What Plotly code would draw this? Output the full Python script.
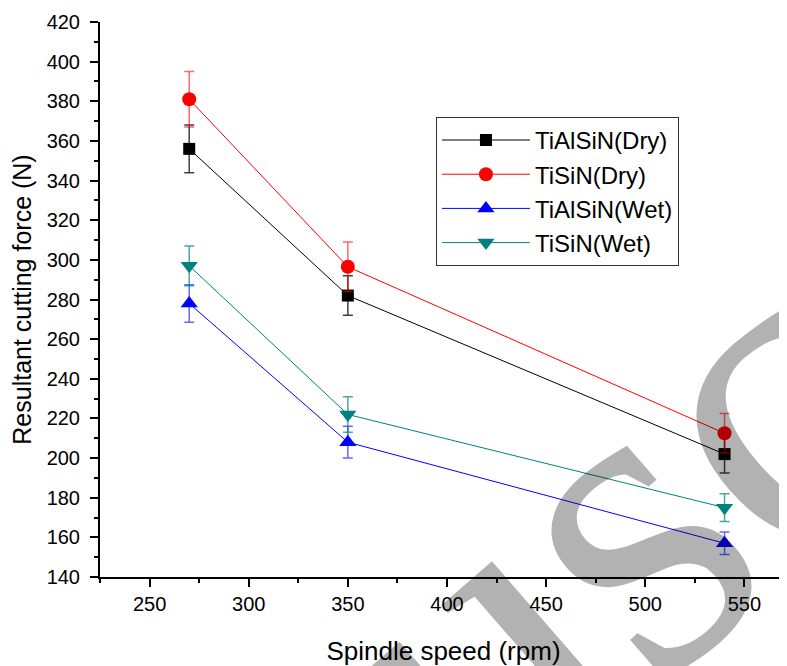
import plotly.graph_objects as go

speed = [270, 350, 540]

series_names = ["TiAlSiN(Dry)", "TiSiN(Dry)", "TiAlSiN(Wet)", "TiSiN(Wet)"]
tialsin_dry = [356, 282, 202]
tialsin_dry_err = [12, 10, 9.5]
tisin_dry = [381, 296.5, 212.5]
tisin_dry_err = [14, 12.5, 10]
tialsin_wet = [278, 208, 157]
tialsin_wet_err = [9.5, 8, 5.7]
tisin_wet = [297, 222, 175]
tisin_wet_err = [10, 9, 7]

colors = ["#000000", "#ff0000", "#0000ff", "#008080"]
err_colors = ["rgba(0,0,0,0.75)", "rgba(255,0,0,0.6)", "rgba(0,0,255,0.6)", "rgba(0,128,128,0.7)"]
symbols = ["square", "circle", "triangle-up", "triangle-down"]
msizes = [12, 14, 15, 15]
values = [tialsin_dry, tisin_dry, tialsin_wet, tisin_wet]
errors = [tialsin_dry_err, tisin_dry_err, tialsin_wet_err, tisin_wet_err]

fig = go.Figure()
for name, y, e, c, ec, s, ms in zip(series_names, values, errors, colors, err_colors, symbols, msizes):
    fig.add_trace(go.Scatter(
        x=speed, y=y, name=name, mode="lines+markers",
        line=dict(color=c, width=1),
        marker=dict(symbol=s, size=ms, color=c),
        error_y=dict(type="data", array=e, visible=True, color=ec, thickness=1.5, width=5),
    ))

fig.add_annotation(
    text="Manuscript", xref="paper", yref="paper", x=0.634, y=-0.036,
    xanchor="center", yanchor="middle", showarrow=False, textangle=-41,
    font=dict(family="Liberation Serif", size=450, color="rgba(0,0,0,0.3)"),
)

# page body has an 8px margin: figure is sized to fit the 787x666 window
fig.update_layout(
    width=779, height=658,
    margin=dict(l=92, r=0, t=14, b=89, autoexpand=False),
    paper_bgcolor="white", plot_bgcolor="white",
    font=dict(family="Liberation Sans, Arial", color="black"),
    showlegend=True,
    legend=dict(x=0.489, y=0.829, xanchor="left", yanchor="top",
                bordercolor="#333333", borderwidth=1, bgcolor="white",
                font=dict(size=24), tracegroupgap=0, itemwidth=88),
    xaxis=dict(range=[225, 571.5], tickvals=[250, 300, 350, 400, 450, 500, 550],
               automargin=False,
               showgrid=False, zeroline=False, showline=True, linecolor="black", linewidth=2,
               ticks="outside", ticklen=8, tickwidth=2, tickcolor="black",
               minor=dict(tickvals=[225, 275, 325, 375, 425, 475, 525], ticks="outside", ticklen=4, tickwidth=2, tickcolor="black"),
               tickfont=dict(size=20),
               title=dict(text="Spindle speed (rpm)", font=dict(size=26), standoff=29)),
    yaxis=dict(range=[140, 420], dtick=20, tick0=140,
               automargin=False,
               showgrid=False, zeroline=False, showline=True, linecolor="black", linewidth=2,
               ticks="outside", ticklen=8, tickwidth=2, tickcolor="black",
               ticklabelstandoff=6,
               minor=dict(dtick=10, ticks="outside", ticklen=4, tickwidth=2, tickcolor="black"),
               tickfont=dict(size=20),
               title=dict(text="Resultant cutting force (N)", font=dict(size=25), standoff=9)),
)

fig.write_html("out.html")
